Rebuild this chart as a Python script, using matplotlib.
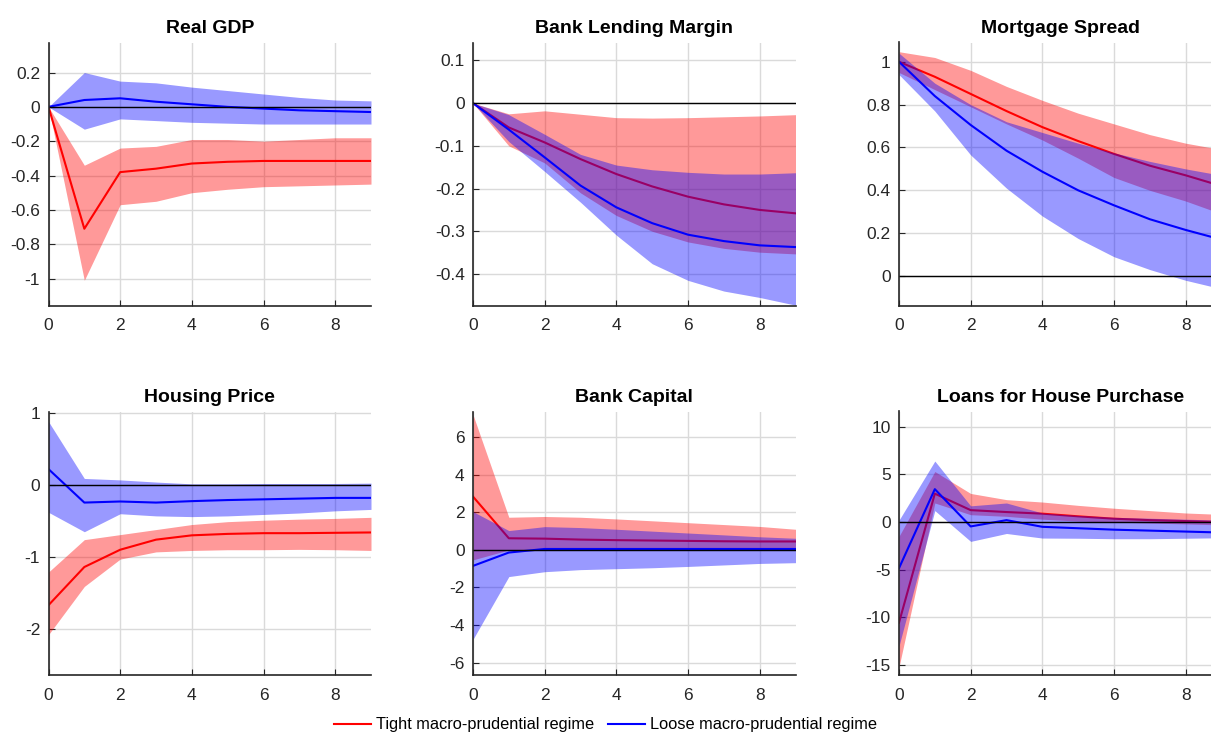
import numpy as np
import matplotlib
matplotlib.use("Agg")
from matplotlib import pyplot as plt
from matplotlib.ticker import FormatStrFormatter

horizon = list(range(10))

# Real GDP
gdp_tight = [0, -0.71, -0.38, -0.36, -0.33, -0.32, -0.315, -0.315, -0.315, -0.315]
gdp_tight_hi = [0, -0.34, -0.24, -0.23, -0.19, -0.19, -0.20, -0.19, -0.18, -0.18]
gdp_tight_lo = [0, -1.01, -0.57, -0.55, -0.50, -0.48, -0.465, -0.46, -0.455, -0.45]
gdp_loose = [0, 0.04, 0.05, 0.03, 0.015, 0.0, -0.01, -0.02, -0.025, -0.03]
gdp_loose_hi = [0, 0.20, 0.15, 0.14, 0.115, 0.095, 0.075, 0.055, 0.04, 0.035]
gdp_loose_lo = [0, -0.13, -0.07, -0.08, -0.09, -0.095, -0.10, -0.10, -0.10, -0.10]

# Bank lending margin
blm_tight = [0, -0.057, -0.092, -0.131, -0.166, -0.195, -0.219, -0.237, -0.25, -0.258]
blm_tight_hi = [0, -0.025, -0.018, -0.026, -0.034, -0.035, -0.034, -0.032, -0.03, -0.027]
blm_tight_lo = [0, -0.10, -0.14, -0.21, -0.263, -0.30, -0.325, -0.34, -0.349, -0.353]
blm_loose = [0, -0.062, -0.127, -0.193, -0.244, -0.281, -0.308, -0.323, -0.333, -0.337]
blm_loose_hi = [0, -0.027, -0.073, -0.12, -0.145, -0.156, -0.162, -0.166, -0.166, -0.163]
blm_loose_lo = [0, -0.09, -0.16, -0.232, -0.309, -0.376, -0.415, -0.44, -0.455, -0.473]

# Mortgage spread
ms_tight = [1.0, 0.93, 0.85, 0.77, 0.695, 0.63, 0.57, 0.515, 0.47, 0.42]
ms_tight_hi = [1.047, 1.02, 0.96, 0.885, 0.82, 0.76, 0.71, 0.66, 0.62, 0.59]
ms_tight_lo = [0.95, 0.87, 0.79, 0.71, 0.635, 0.55, 0.46, 0.40, 0.35, 0.29]
ms_loose = [1.0, 0.84, 0.705, 0.585, 0.487, 0.40, 0.33, 0.265, 0.215, 0.17]
ms_loose_hi = [1.04, 0.90, 0.80, 0.72, 0.67, 0.62, 0.575, 0.535, 0.50, 0.47]
ms_loose_lo = [0.94, 0.77, 0.565, 0.41, 0.28, 0.175, 0.09, 0.03, -0.02, -0.06]

# Housing price
hp_tight = [-1.67, -1.14, -0.90, -0.76, -0.70, -0.68, -0.67, -0.67, -0.665, -0.66]
hp_tight_hi = [-1.21, -0.76, -0.69, -0.62, -0.55, -0.51, -0.49, -0.475, -0.465, -0.45]
hp_tight_lo = [-2.08, -1.41, -1.03, -0.93, -0.91, -0.90, -0.90, -0.895, -0.90, -0.91]
hp_loose = [0.22, -0.245, -0.23, -0.245, -0.225, -0.21, -0.20, -0.19, -0.18, -0.18]
hp_loose_hi = [0.88, 0.09, 0.07, 0.04, 0.015, 0.015, 0.02, 0.02, 0.02, 0.025]
hp_loose_lo = [-0.38, -0.65, -0.40, -0.43, -0.44, -0.43, -0.41, -0.39, -0.36, -0.34]

# Bank capital
bc_tight = [2.84, 0.62, 0.6, 0.55, 0.52, 0.50, 0.48, 0.46, 0.45, 0.45]
bc_tight_hi = [7.2, 1.74, 1.78, 1.74, 1.65, 1.55, 1.45, 1.35, 1.25, 1.1]
bc_tight_lo = [-0.53, 0.0, 0.05, 0.05, 0.05, 0.05, 0.05, 0.05, 0.05, 0.05]
bc_loose = [-0.85, -0.14, 0.05, 0.05, 0.05, 0.05, 0.05, 0.05, 0.05, 0.05]
bc_loose_hi = [2.04, 1.03, 1.24, 1.19, 1.1, 1.0, 0.9, 0.8, 0.7, 0.62]
bc_loose_lo = [-4.76, -1.42, -1.16, -1.05, -1.0, -0.95, -0.88, -0.8, -0.72, -0.68]

# Loans for house purchase
lh_tight = [-10.56, 2.98, 1.25, 1.05, 0.88, 0.6, 0.35, 0.2, 0.1, 0.0]
lh_tight_hi = [-1.5, 5.3, 3.0, 2.35, 2.1, 1.75, 1.45, 1.2, 0.95, 0.8]
lh_tight_lo = [-15.2, 2.0, 0.77, 0.6, 0.3, 0.1, 0.0, -0.1, -0.2, -0.3]
lh_loose = [-4.84, 3.45, -0.46, 0.2, -0.5, -0.65, -0.8, -0.9, -1.0, -1.1]
lh_loose_hi = [0.2, 6.4, 1.7, 2.0, 0.95, 0.7, 0.5, 0.4, 0.3, 0.2]
lh_loose_lo = [-13.0, 1.2, -2.03, -1.2, -1.68, -1.7, -1.75, -1.75, -1.7, -1.65]

titles = ["Real GDP", "Bank Lending Margin", "Mortgage Spread",
          "Housing Price", "Bank Capital", "Loans for House Purchase"]
labels = ["Tight macro-prudential regime", "Loose macro-prudential regime"]

panels = [
    (gdp_tight, gdp_tight_lo, gdp_tight_hi, gdp_loose, gdp_loose_lo, gdp_loose_hi),
    (blm_tight, blm_tight_lo, blm_tight_hi, blm_loose, blm_loose_lo, blm_loose_hi),
    (ms_tight, ms_tight_lo, ms_tight_hi, ms_loose, ms_loose_lo, ms_loose_hi),
    (hp_tight, hp_tight_lo, hp_tight_hi, hp_loose, hp_loose_lo, hp_loose_hi),
    (bc_tight, bc_tight_lo, bc_tight_hi, bc_loose, bc_loose_lo, bc_loose_hi),
    (lh_tight, lh_tight_lo, lh_tight_hi, lh_loose, lh_loose_lo, lh_loose_hi),
]

ylims = [(-1.16, 0.375), (-0.475, 0.142), (-0.14, 1.09),
         (-2.64, 1.02), (-6.66, 7.37), (-16.05, 11.6)]
yticks = [[-1, -0.8, -0.6, -0.4, -0.2, 0, 0.2],
          [-0.4, -0.3, -0.2, -0.1, 0, 0.1],
          [0, 0.2, 0.4, 0.6, 0.8, 1],
          [-2, -1, 0, 1],
          [-6, -4, -2, 0, 2, 4, 6],
          [-15, -10, -5, 0, 5, 10]]

plt.rcParams["font.family"] = ["Liberation Sans", "DejaVu Sans"]
plt.rcParams["axes.unicode_minus"] = False

fig = plt.figure(figsize=(12.11, 7.33), dpi=100)

lefts = [48.5 / 1211, 473 / 1211, 899 / 1211]
bottoms = [1 - 306 / 733, 1 - 675 / 733]
width = 322.5 / 1211
height = 263.5 / 733

dark = "#262626"
x = np.array(horizon)

for i, (title, data) in enumerate(zip(titles, panels)):
    row, col = divmod(i, 3)
    ax = fig.add_axes([lefts[col], bottoms[row], width, height])
    t, t_lo, t_hi, l, l_lo, l_hi = data

    # blue band drawn over the red line, as in the original
    ax.fill_between(x, t_lo, t_hi, color="red", alpha=0.4, linewidth=0, zorder=2)
    h1, = ax.plot(x, t, color="red", lw=1.5, zorder=3)
    ax.fill_between(x, l_lo, l_hi, color="blue", alpha=0.4, linewidth=0, zorder=4)
    h2, = ax.plot(x, l, color="blue", lw=1.5, zorder=5)
    ax.axhline(0, color="black", lw=1, zorder=6)

    ax.set_xlim(0, 9)
    ax.set_ylim(*ylims[i])
    ax.set_xticks([0, 2, 4, 6, 8])
    ax.set_yticks(yticks[i])
    ax.yaxis.set_major_formatter(FormatStrFormatter("%g"))
    ax.grid(True, color="#dadada", lw=1, zorder=0)
    ax.set_axisbelow(True)
    for side in ["top", "right"]:
        ax.spines[side].set_visible(False)
    for side in ["left", "bottom"]:
        ax.spines[side].set_color(dark)
        ax.spines[side].set_linewidth(1.2)
        ax.spines[side].set_zorder(7)
    ax.tick_params(direction="in", length=4, colors=dark, labelsize=12.5, pad=6)
    ax.tick_params(axis="x", pad=9)
    ax.set_title(title, fontsize=14, fontweight="bold", pad=7)

fig.legend([h1, h2], labels, loc="center", bbox_to_anchor=(0.5, 0.011), ncol=2,
           frameon=False, fontsize=11.8, handlelength=2.3, columnspacing=0.8,
           handletextpad=0.3)

fig.savefig("out.png", dpi=100)
